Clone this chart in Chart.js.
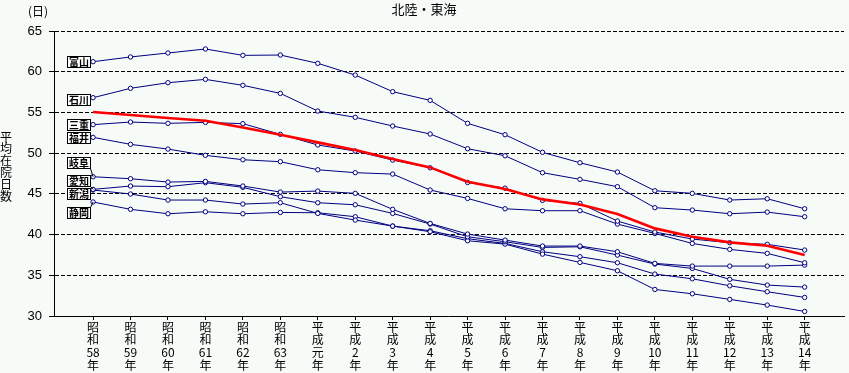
<!DOCTYPE html>
<html lang="ja">
<head>
<meta charset="utf-8">
<script src="https://cdn.jsdelivr.net/npm/chart.js@4.4.1/dist/chart.umd.min.js"></script>
<style>
  html, body { margin:0; padding:0; background:#f6fbf8; overflow:hidden; }
  #wrap { width:849px; height:373px; position:relative; }
  #wrap canvas { display:block; }
</style>
</head>
<body>
<div id="wrap"><canvas id="c"></canvas></div>
<script>
// ── DATA ───────────────────────────────────────────────
const xLabels = [
  ['昭','和','58','年'], ['昭','和','59','年'], ['昭','和','60','年'], ['昭','和','61','年'],
  ['昭','和','62','年'], ['昭','和','63','年'], ['平','成','元','年'], ['平','成','2','年'],
  ['平','成','3','年'],  ['平','成','4','年'],  ['平','成','5','年'],  ['平','成','6','年'],
  ['平','成','7','年'],  ['平','成','8','年'],  ['平','成','9','年'],  ['平','成','10','年'],
  ['平','成','11','年'], ['平','成','12','年'], ['平','成','13','年'], ['平','成','14','年']
];
const yTicks = [30, 35, 40, 45, 50, 55, 60, 65];

const zenkoku  = [55.05, 54.68, 54.31, 53.98, 53.15, 52.25, 51.32, 50.38, 49.28, 48.25, 46.49, 45.59, 44.32, 43.70, 42.52, 40.76, 39.73, 39.04, 38.63, 37.48];
const toyama   = [61.23, 61.81, 62.30, 62.79, 62.01, 62.05, 61.03, 59.59, 57.55, 56.48, 53.66, 52.26, 50.10, 48.82, 47.68, 45.38, 45.06, 44.24, 44.40, 43.17];
const ishikawa = [56.81, 57.96, 58.65, 59.06, 58.33, 57.34, 55.17, 54.40, 53.33, 52.35, 50.54, 49.68, 47.60, 46.78, 45.88, 43.30, 43.01, 42.56, 42.76, 42.19];
const mie      = [53.50, 53.82, 53.66, 53.78, 53.62, 52.31, 51.00, 50.26, 49.15, 48.20, 46.40, 45.70, 44.20, 43.83, 41.66, 40.31, 39.45, 39.00, 38.80, 38.10];
const fukui    = [51.94, 51.08, 50.50, 49.73, 49.19, 48.95, 47.96, 47.60, 47.43, 45.47, 44.44, 43.17, 42.93, 42.93, 41.29, 40.14, 38.91, 38.18, 37.69, 36.54];
const gifu     = [47.10, 46.86, 46.45, 46.53, 45.96, 45.22, 45.34, 45.06, 43.10, 41.37, 40.06, 39.32, 38.59, 38.59, 37.89, 36.46, 36.13, 36.13, 36.13, 36.25];
const aichi    = [45.55, 45.96, 45.88, 46.37, 45.80, 44.65, 43.91, 43.66, 42.60, 41.29, 39.73, 39.12, 38.42, 38.50, 37.48, 36.38, 35.84, 34.50, 33.80, 33.55];
const niigata  = [45.47, 44.98, 44.24, 44.24, 43.75, 43.91, 42.60, 41.78, 41.04, 40.35, 39.24, 38.83, 37.60, 36.58, 35.56, 33.26, 32.73, 32.04, 31.34, 30.56];
const shizuoka = [44.00, 43.10, 42.56, 42.80, 42.56, 42.72, 42.68, 42.19, 41.04, 40.47, 39.49, 38.91, 37.89, 37.28, 36.54, 35.15, 34.57, 33.71, 32.98, 32.28];

const prefNames  = ['富山', '石川', '三重', '福井', '岐阜', '愛知', '新潟', '静岡'];
const prefSeries = [toyama, ishikawa, mie, fukui, gifu, aichi, niigata, shizuoka];

// ── STYLE ──────────────────────────────────────────────
const BG    = '#f6fbf8';
const NAVY  = '#000080';
const JP    = '"Noto Sans CJK JP", "Noto Sans", sans-serif';
const NUM   = '"Liberation Sans", Arial, sans-serif';
// label box: vertical shift (px) from first point
const labelShift = [0, 2, 0, 1, -14, -8, 4, 11];

const toXY = arr => arr.map((v, i) => ({ x: i, y: v }));

const datasets = [{
  label: '全国', data: toXY(zenkoku), borderColor: '#ff0000', borderWidth: 2.6,
  pointRadius: 0, order: 0
}].concat(prefSeries.map((s, k) => ({
  label: prefNames[k], data: toXY(s), borderColor: NAVY, borderWidth: 1,
  pointRadius: 2.2, pointBorderWidth: 1, pointBorderColor: NAVY,
  pointBackgroundColor: '#ffffff', order: 1
})));

// ── DECORATION PLUGIN ─────────────────────────────────
const deco = {
  id: 'deco',
  beforeDraw(chart) {
    const { ctx, width, height } = chart;
    ctx.save();
    ctx.fillStyle = BG;
    ctx.fillRect(0, 0, width, height);
    ctx.restore();
  },
  afterDraw(chart) {
    const { ctx } = chart;
    const xs = chart.scales.x, ys = chart.scales.y;
    ctx.save();
    ctx.fillStyle = '#000';
    ctx.textBaseline = 'middle';

    // title
    ctx.textAlign = 'center';
    ctx.font = '13px ' + JP;
    ctx.fillText('北陸・東海', 424, 9);
    // unit
    ctx.textAlign = 'left';
    ctx.font = '12px ' + JP;
    ctx.fillText('(日)', 28, 11);
    // vertical axis title
    ctx.textAlign = 'center';
    const vt = '平均在院日数';
    for (let i = 0; i < vt.length; i++) ctx.fillText(vt[i], 6, 137 + i * 11.8);

    // prefecture label boxes
    ctx.font = 'bold 10px ' + JP;
    const px = xs.getPixelForValue(0);
    prefSeries.forEach((s, k) => {
      const py = ys.getPixelForValue(s[0]);
      const cy = Math.round(py + labelShift[k]);
      const x0 = Math.round(px) - 25.5, x1 = Math.round(px) - 2.5;
      const y0 = cy - 5.5, y1 = cy + 5.5;
      ctx.fillStyle = '#fff';
      ctx.fillRect(x0, y0, x1 - x0, y1 - y0);
      ctx.strokeStyle = '#000';
      ctx.lineWidth = 1;
      ctx.strokeRect(x0, y0, x1 - x0, y1 - y0);
      ctx.fillStyle = '#000';
      ctx.fillText(prefNames[k], (x0 + x1) / 2, cy + 0.5);
      if (Math.abs(labelShift[k]) > 6) {
        ctx.beginPath();
        ctx.moveTo(x1, labelShift[k] < 0 ? y1 : y0);
        ctx.lineTo(px, py);
        ctx.stroke();
      }
    });
    ctx.restore();
  }
};

new Chart(document.getElementById('c'), {
  type: 'line',
  data: { datasets },
  plugins: [deco],
  options: {
    responsive: true,
    maintainAspectRatio: false,
    animation: false,
    layout: { padding: { top: 31, left: 0, right: -5, bottom: 0 } },
    plugins: { legend: { display: false }, tooltip: { enabled: false }, title: { display: false } },
    elements: { line: { tension: 0 } },
    scales: {
      x: {
        type: 'linear',
        min: -1.043,
        max: 20.05,
        afterBuildTicks: s => { s.ticks = xLabels.map((_, i) => ({ value: i })); },
        afterFit: s => { s.height = 57; s.paddingLeft = 0; s.paddingRight = 0; },
        ticks: {
          autoSkip: false, maxRotation: 0, padding: 1,
          color: '#000',
          font: { family: JP, size: 12, lineHeight: 1.05 },
          callback: v => xLabels[v]
        },
        grid: { drawOnChartArea: false, drawTicks: true, tickLength: 4, tickColor: '#000', color: '#000' },
        border: { display: true, color: '#000', width: 1 }
      },
      y: {
        min: 30, max: 65,
        afterBuildTicks: s => { s.ticks = yTicks.map(v => ({ value: v })); },
        afterFit: s => { s.width = 54; s.paddingTop = 0; s.paddingBottom = 0; },
        ticks: { color: '#000', padding: 7, font: { family: NUM, size: 13 } },
        grid: {
          color: c => (c.tick && c.tick.value === 30) ? 'rgba(0,0,0,0)' : '#000',
          lineWidth: 1, tickLength: 5, tickColor: '#000'
        },
        border: { display: true, color: '#000', width: 1, dash: [4, 2] }
      }
    }
  }
});
</script>
</body>
</html>
